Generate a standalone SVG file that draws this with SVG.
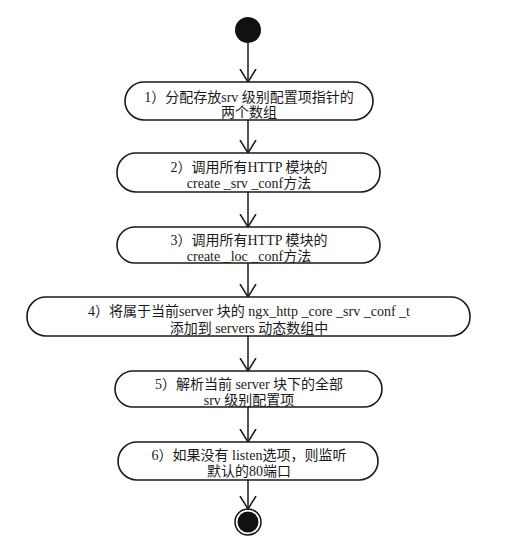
<svg xmlns="http://www.w3.org/2000/svg" width="515" height="540" viewBox="0 0 515 540">
<style>
.n{fill:#fff;stroke:#1a1a1a;stroke-width:1.6}
.t{font-family:"Liberation Serif","Noto Sans CJK SC",serif;font-size:14px;fill:#1a1a1a;text-anchor:middle}
.c{stroke:#1a1a1a;stroke-width:1.5;fill:none}
</style>
<defs>
<marker id="a" viewBox="0 0 14 18" refX="13" refY="9" markerWidth="14" markerHeight="18" markerUnits="userSpaceOnUse" orient="auto">
<path d="M0,1 L13,9 L0,17" fill="none" stroke="#1a1a1a" stroke-width="1.5"/>
</marker>
</defs>
<rect width="515" height="540" fill="#fff"/>
<g id="connectors">
<line class="c" x1="248" y1="43" x2="248" y2="82" marker-end="url(#a)"/>
<line class="c" x1="248" y1="120" x2="248" y2="153" marker-end="url(#a)"/>
<line class="c" x1="248" y1="192" x2="248" y2="227" marker-end="url(#a)"/>
<line class="c" x1="248" y1="263" x2="248" y2="297" marker-end="url(#a)"/>
<line class="c" x1="248" y1="336" x2="248" y2="371" marker-end="url(#a)"/>
<line class="c" x1="248" y1="407" x2="248" y2="442" marker-end="url(#a)"/>
<line class="c" x1="248" y1="480" x2="248" y2="509" marker-end="url(#a)"/>
</g>
<g id="start"><circle cx="248" cy="30" r="13" fill="#111"/></g>
<g id="n1">
<rect class="n" x="125" y="82" width="248" height="38" rx="19"/>
<text class="t" x="249" y="102">1）分配存放srv 级别配置项指针的</text>
<text class="t" x="249" y="117">两个数组</text>
</g>
<g id="n2">
<rect class="n" x="117" y="153" width="263" height="39" rx="19"/>
<text class="t" x="249" y="172">2）调用所有HTTP 模块的</text>
<text class="t" x="249" y="188">create _srv _conf方法</text>
</g>
<g id="n3">
<rect class="n" x="117" y="227" width="263" height="36" rx="18"/>
<text class="t" x="249" y="245">3）调用所有HTTP 模块的</text>
<text class="t" x="249" y="261">create _loc _conf方法</text>
</g>
<g id="n4">
<rect class="n" x="27" y="297" width="443" height="39" rx="19"/>
<text class="t" x="249" y="316">4）将属于当前server 块的 ngx_http _core _srv _conf _t</text>
<text class="t" x="249" y="333">添加到 servers 动态数组中</text>
</g>
<g id="n5">
<rect class="n" x="115" y="371" width="267" height="36" rx="18"/>
<text class="t" x="249" y="389">5）解析当前 server 块下的全部</text>
<text class="t" x="249" y="405">srv 级别配置项</text>
</g>
<g id="n6">
<rect class="n" x="118" y="442" width="260" height="38" rx="19"/>
<text class="t" x="249" y="460">6）如果没有 listen选项，则监听</text>
<text class="t" x="249" y="476">默认的80端口</text>
</g>
<g id="end">
<circle cx="248" cy="522" r="13" fill="none" stroke="#111" stroke-width="1.5"/>
<circle cx="248" cy="522" r="10.5" fill="#111"/>
</g>
</svg>
